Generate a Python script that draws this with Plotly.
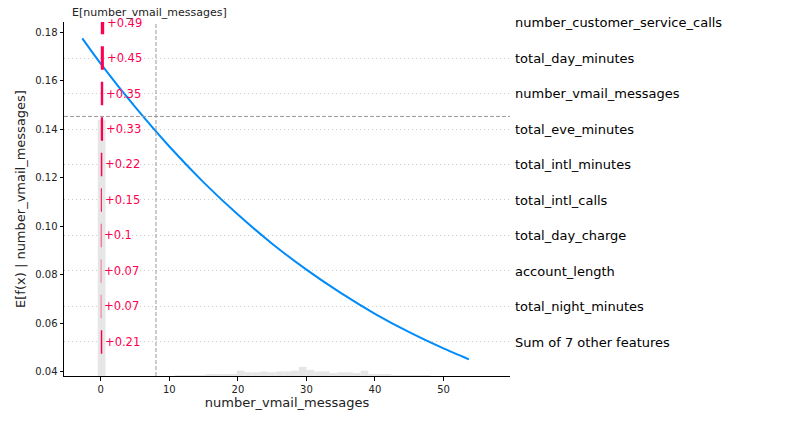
import plotly.graph_objects as go

# ---------------- data ----------------
# partial dependence curve
pd_x = [-2.7, 0, 5, 10, 15, 20, 25, 30, 35, 40, 45, 50, 53.7]
pd_y = [0.1775, 0.1670, 0.1492, 0.1329, 0.1181, 0.1048, 0.0928, 0.0821,
        0.0725, 0.0639, 0.0563, 0.0496, 0.0451]

# histogram of number_vmail_messages (50 bins between hist_min and hist_max)
hist_min = -2.7
hist_max = 53.7
hist_counts = [0, 0, 619, 0, 0, 0, 0, 0, 0, 0, 0, 0,
               2, 2, 2, 2, 4, 4, 4, 5, 13, 9, 9, 11, 9, 11, 11, 13, 22, 15,
               11, 11, 7, 9, 9, 7, 13, 4, 4, 4, 2, 2, 2, 2, 2,
               0, 0, 0, 0, 0]

x_mean = 8.05            # E[number_vmail_messages]
expected_value = 0.1453  # E[f(x)]

# waterfall overlay (bottom row first)
features = ["Sum of 7 other features", "total_night_minutes", "account_length",
            "total_day_charge", "total_intl_calls", "total_intl_minutes",
            "total_eve_minutes", "number_vmail_messages", "total_day_minutes",
            "number_customer_service_calls"]
shap_values = [0.21, 0.07, 0.07, 0.1, 0.15, 0.22, 0.33, 0.35, 0.45, 0.49]

# ---------------- styles ----------------
BLUE = "#008bfb"
RED = "#ff0051"
FONT = "DejaVu Sans"
bar_h = 0.33  # half height of waterfall bars in row units

fig = go.Figure()

# histogram
nb = len(hist_counts)
bw = (hist_max - hist_min) / nb
centers = [hist_min + bw * (i + 0.5) for i in range(nb)]
fig.add_trace(go.Bar(x=centers, y=hist_counts, width=[bw] * nb,
                     marker=dict(color="#e6e6e6", line=dict(width=0)),
                     yaxis="y2", xaxis="x", showlegend=False, hoverinfo="skip"))

# dependence line
fig.add_trace(go.Scatter(x=pd_x, y=pd_y, mode="lines",
                         line=dict(color=BLUE, width=2, shape="spline", smoothing=0.6),
                         showlegend=False, xaxis="x", yaxis="y"))

# waterfall bars as filled polygons
rows = list(range(1, len(features) + 1))
px, py = [], []
for r, v in zip(rows, shap_values):
    px += [0, v, v, 0, 0, None]
    py += [r - bar_h, r - bar_h, r + bar_h, r + bar_h, r - bar_h, None]
fig.add_trace(go.Scatter(x=px, y=py, mode="lines", fill="toself",
                         fillcolor=RED, line=dict(width=0, color=RED),
                         xaxis="x", yaxis="y3", showlegend=False, hoverinfo="skip"))

# waterfall value labels
for r, v in zip(rows, shap_values):
    fig.add_annotation(x=v, y=r, xref="x", yref="y3", text=f"+{v:g}",
                       xanchor="left", yanchor="middle", xshift=1, showarrow=False,
                       font=dict(color=RED, size=11.5, family=FONT))

# reference lines
fig.add_shape(type="line", xref="x", yref="paper", x0=x_mean, x1=x_mean, y0=0, y1=1,
              line=dict(color="#999999", width=1, dash="4px,2px"))
fig.add_shape(type="line", xref="paper", yref="y", x0=0, x1=1,
              y0=expected_value, y1=expected_value,
              line=dict(color="#999999", width=1, dash="4px,2px"))

fig.add_annotation(text="E[number_vmail_messages]", xref="paper", yref="paper",
                   x=0.0128, y=1, xanchor="left", yanchor="bottom", yshift=1,
                   showarrow=False, font=dict(size=11, family=FONT, color="#222"))

axis_common = dict(showline=True, linecolor="black", linewidth=1, ticks="outside",
                   ticklen=3.5, tickwidth=1, tickcolor="black",
                   tickfont=dict(size=10, family=FONT, color="#222"), showgrid=False,
                   zeroline=False, automargin=False)

fig.update_layout(
    width=790, height=427,
    margin=dict(l=64, r=280, t=22, b=51),
    paper_bgcolor="white", plot_bgcolor="white",
    font=dict(family=FONT, color="#222"),
    showlegend=False,
    xaxis=dict(range=[-5.37, 59.7], tickvals=[0, 10, 20, 30, 40, 50],
               title=dict(text="number_vmail_messages", font=dict(size=13, family=FONT),
                          standoff=4),
               **axis_common),
    yaxis=dict(range=[0.03823, 0.18425], tickvals=[0.04, 0.06, 0.08, 0.10, 0.12, 0.14, 0.16, 0.18],
               tickformat=".2f",
               title=dict(text="E[f(x) | number_vmail_messages]",
                          font=dict(size=13, family=FONT), standoff=6),
               **axis_common),
    yaxis2=dict(overlaying="y", range=[0, sum(hist_counts)], visible=False),
    yaxis3=dict(overlaying="y", side="right", range=[0.042, 10.014],
                tickvals=rows, ticktext=features, ticks="", showline=False,
                zeroline=False, showgrid=True, gridcolor="#cccccc", gridwidth=1,
                griddash="1px,3px", ticklabelstandoff=4, automargin=False,
                tickfont=dict(size=13, family=FONT, color="black")),
)

fig.write_html("out.html", config={"displayModeBar": False},
               post_script="document.body.style.margin='0';document.body.style.padding='0';")
